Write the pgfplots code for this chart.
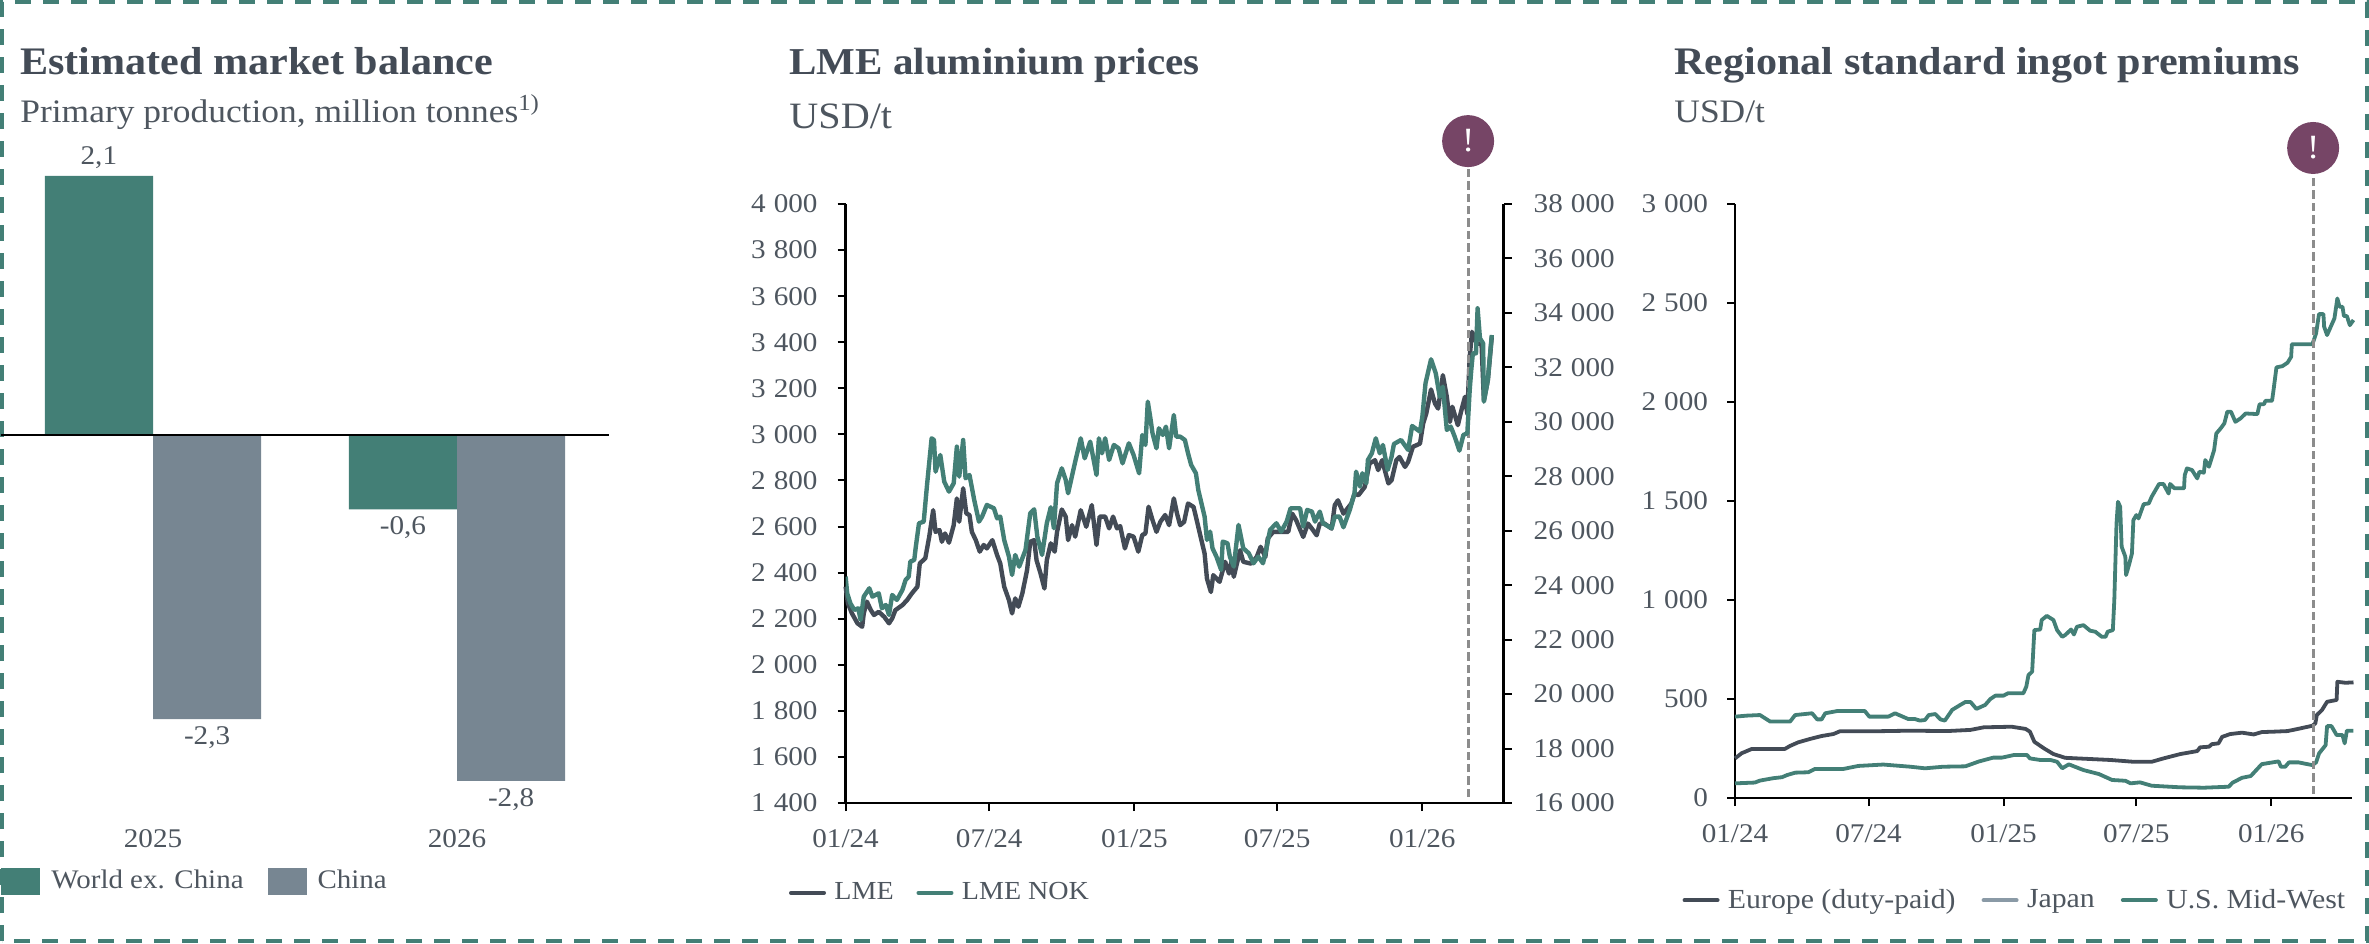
\documentclass[border=0pt]{standalone}
\usepackage{fontspec}
\setmainfont[FakeStretch=1.08]{Liberation Serif}
\usepackage{pgfplots}
\usepackage{pgfplotstable}
\pgfplotsset{compat=1.18}

\definecolor{tealc}{HTML}{437F76}
\definecolor{slatec}{HTML}{778692}
\definecolor{darkc}{HTML}{434B56}
\definecolor{txt}{HTML}{4E565F}
\definecolor{plumc}{HTML}{764566}
\definecolor{dashc}{HTML}{8C8C8C}
\definecolor{japc}{HTML}{8A9AA6}

% days since 2024-01-01
\pgfplotstableread{
d v
0 2339
3 2266
8 2223
15 2180
21 2165
23 2223
27 2274
32 2237
36 2216
42 2230
49 2208
55 2180
59 2201
63 2237
72 2259
78 2281
84 2310
91 2339
94 2440
101 2462
106 2556
111 2671
114 2577
119 2585
122 2534
126 2570
131 2530
137 2606
141 2722
144 2621
149 2766
153 2657
157 2650
160 2577
165 2541
170 2491
175 2520
179 2505
186 2541
192 2476
196 2440
201 2339
207 2281
211 2223
215 2288
219 2252
224 2310
230 2411
234 2534
239 2541
242 2454
247 2397
252 2331
255 2454
260 2527
265 2491
268 2577
274 2674
279 2643
282 2541
287 2606
291 2556
298 2671
305 2599
312 2693
318 2520
322 2643
329 2643
334 2592
339 2643
344 2592
348 2602
354 2505
359 2563
365 2556
371 2491
376 2563
380 2570
384 2686
389 2628
394 2577
399 2621
405 2650
410 2606
416 2722
420 2657
424 2606
429 2620
434 2700
441 2685
445 2628
450 2555
455 2483
458 2374
463 2316
466 2389
474 2360
481 2447
486 2396
489 2447
492 2382
500 2497
504 2447
514 2439
521 2468
526 2512
532 2468
535 2548
542 2577
552 2577
561 2577
566 2656
571 2628
580 2555
586 2613
591 2591
597 2562
601 2613
607 2613
616 2591
620 2693
624 2714
631 2656
641 2700
645 2743
650 2736
658 2772
664 2874
671 2888
675 2845
680 2888
688 2787
692 2801
698 2888
702 2902
709 2859
713 2881
719 2946
728 2960
732 3047
736 3091
742 3195
747 3134
751 3112
757 3257
762 3163
766 3054
769 3120
776 3040
780 3098
785 3163
788 3090
791 3337
794 3445
800 3394
806 3394
809 3148
814 3235
819 3423
}\lme

\pgfplotstableread{
d v
0 24315
2 23703
6 23336
11 23091
16 23152
19 22724
23 23580
30 23886
34 23580
42 23703
46 23152
51 23274
55 22907
59 23642
65 23458
72 23825
76 24192
80 24315
82 24866
87 24927
89 25416
93 26273
99 26334
103 27620
109 29394
112 29333
114 28170
120 28782
125 27803
131 27436
137 27742
141 29088
144 27987
149 29333
152 27926
157 28048
163 27130
169 26334
173 26518
179 26946
188 26824
192 26457
196 26518
201 25661
207 25049
211 24376
215 25110
220 24682
228 25294
234 26640
239 26787
243 25784
249 25110
255 26273
260 26861
264 26090
268 27742
274 28293
279 27864
282 27375
291 28538
298 29394
303 28660
310 29272
318 28048
321 29394
325 28844
329 29394
334 28599
340 29150
346 29027
351 28476
359 29211
365 28782
372 28109
376 29517
380 29150
383 30741
386 30190
389 29578
394 29027
397 29762
402 29517
406 29823
410 29027
416 30251
419 29456
424 29456
430 29334
434 28844
438 28416
444 28110
447 27498
451 27008
455 26519
458 25662
462 25968
465 25356
470 25050
476 24560
478 25601
484 25540
487 25050
492 24683
498 26213
504 25356
511 25172
517 24805
523 25050
529 24805
533 25295
538 26029
546 26274
552 25968
559 26335
564 26825
576 26825
580 26152
585 26764
591 26702
595 26335
601 26702
605 26274
616 26091
620 26519
626 26519
631 26127
639 26764
645 27376
647 28171
652 27620
655 28110
660 27743
662 28600
667 28844
672 29395
677 28844
681 29150
687 28232
692 28722
695 29187
704 29334
713 28967
718 29848
728 29640
731 30191
735 31415
742 32296
748 31782
753 30925
757 31292
762 29701
767 29824
772 29456
778 28942
783 29518
788 29579
791 31170
793 31904
795 32516
799 32516
801 34169
804 33067
808 32884
809 30742
814 31537
819 33190
}\nok

\pgfplotstableread{
d v
0 411
16 416
34 419
48 386
75 386
82 419
105 428
112 397
118 397
123 428
139 439
177 439
183 411
209 411
218 428
236 399
245 399
252 391
259 394
264 419
273 424
280 397
286 391
296 445
307 470
314 485
321 485
329 450
341 470
348 500
355 517
366 517
372 529
393 529
397 562
400 621
405 638
408 848
416 851
418 899
425 920
434 899
439 848
446 814
450 823
458 851
462 826
466 865
475 873
484 845
491 840
500 814
505 814
508 840
515 848
517 1000
520 1387
522 1496
525 1471
527 1269
532 1219
533 1126
537 1177
541 1235
543 1404
547 1429
550 1412
557 1484
564 1488
568 1522
578 1586
584 1586
591 1538
593 1586
599 1564
612 1564
613 1631
616 1665
623 1656
630 1614
633 1648
639 1643
641 1707
646 1673
653 1757
656 1841
662 1867
667 1892
671 1951
676 1951
682 1900
689 1917
696 1942
712 1939
715 1989
721 1989
723 2006
732 2006
734 2060
738 2175
746 2181
753 2198
758 2228
759 2292
787 2292
792 2346
796 2444
802 2444
803 2380
807 2338
814 2397
817 2422
821 2523
824 2481
828 2481
830 2434
834 2434
838 2388
843 2414
}\usmw

\pgfplotstableread{
d v
0 200
9 226
23 248
68 248
75 263
86 281
102 298
118 313
134 323
143 337
189 337
239 340
289 338
321 344
339 357
377 360
396 349
402 335
408 284
421 251
434 222
450 203
512 192
543 183
568 183
584 200
607 222
630 237
634 256
646 259
650 272
659 276
664 309
675 323
691 330
707 321
718 333
734 335
753 338
766 348
787 365
791 377
793 419
800 444
807 486
820 495
821 587
832 582
843 584
}\europe

\pgfplotstableread{
d v
0 74
27 78
34 88
52 100
64 105
71 116
82 128
100 130
109 147
148 147
168 162
202 169
239 158
259 150
284 158
314 160
332 184
352 204
364 204
380 217
398 217
402 200
416 192
430 192
439 183
446 150
455 170
475 141
496 121
514 91
532 87
539 74
552 79
568 62
607 54
639 52
673 57
678 77
691 102
703 111
718 171
741 185
744 158
750 158
755 180
768 180
787 166
792 180
796 225
805 267
807 363
813 363
820 318
828 318
831 276
834 340
843 340
}\japan

\tikzset{lab/.style={font=\fontsize{13.5}{16}\selectfont,text=txt},
  alert/.style={circle,fill=plumc,text=white,minimum size=26pt,inner sep=0pt,font=\fontsize{17}{20}\selectfont}}
\pgfplotsset{
  common/.style={
    scale only axis,
    axis line style={black,line width=1.2pt},
    tick style={black,line width=1pt},
    major tick length=4pt,
    tick align=outside,
    tick label style={lab,
      /pgf/number format/1000 sep={\hspace{0.3em}},
      /pgf/number format/assume math mode=true},
    scaled ticks=false,
    xtick={0,182,366,547,731},
    xticklabels={01/24,07/24,01/25,07/25,01/26},
    x tick label style={yshift=-5.5pt},
    xmin=0,
    legend style={draw=none,fill=none,inner sep=0pt,outer sep=0pt,legend columns=-1,
      font=\fontsize{13}{16}\selectfont,text=txt,
      /tikz/every odd column/.append style={column sep=2.2pt}},
    legend cell align=left,
    legend image code/.code={\draw[##1,line width=2pt,line cap=round] (0pt,0pt) -- (16.5pt,0pt);},
  },
  srs/.style={line width=2.2pt,line join=round,no markers},
  dashln/.style={dashc,line width=1.4pt,dash pattern=on 4.2pt off 2pt},
}

\begin{document}
\begin{tikzpicture}
\useasboundingbox (0,0) rectangle (1184.5pt,471.5pt);

\draw[tealc,line width=2.4pt,dash pattern=on 8pt off 6pt] (1pt,1pt) rectangle (1183.5pt,470.5pt);

\node[anchor=base west,inner sep=0,font=\fontsize{19.5}{22}\selectfont\bfseries,text=darkc] at (10pt,434pt) {Estimated market balance};
\node[anchor=base west,inner sep=0,font=\fontsize{16.4}{18}\selectfont,text=txt] at (10pt,410pt) {Primary production, million tonnes\textsuperscript{1)}};
\node[anchor=base west,inner sep=0,font=\fontsize{19}{22}\selectfont\bfseries,text=darkc] at (394.5pt,434pt) {LME aluminium prices};
\node[anchor=base west,inner sep=0,font=\fontsize{18.6}{20}\selectfont,text=txt] at (394.5pt,407pt) {USD/t};
\node[anchor=base west,inner sep=0,font=\fontsize{19.5}{22}\selectfont\bfseries,text=darkc] at (837pt,434pt) {Regional standard ingot premiums};
\node[anchor=base west,inner sep=0,font=\fontsize{16.4}{18}\selectfont,text=txt] at (837pt,410pt) {USD/t};

% left panel: bars
\begin{axis}[
  at={(0.5pt,62.5pt)},anchor=south west,
  scale only axis,width=304pt,height=339.6pt,
  ybar,bar width=0.356,
  xmin=-0.5,xmax=1.5,ymin=-3.1,ymax=2.4,
  axis y line=none,axis x line*=bottom,
  x axis line style={draw=none},
  xtick={0,1},xticklabels={2025,2026},
  xtick style={draw=none},
  tick label style={lab},
  x tick label style={yshift=2pt},
  clip=false,
  nodes near coords,
  every node near coord/.append style={lab,inner sep=3.5pt,
    /pgf/number format/fixed,/pgf/number format/fixed zerofill,/pgf/number format/precision=1,
    /pgf/number format/use comma,/pgf/number format/assume math mode=true},
  legend style={at={(axis description cs:0,-0.093)},anchor=west,draw=none,fill=none,inner sep=0pt,
    legend columns=-1,font=\fontsize{13.4}{16}\selectfont,text=txt,
    /tikz/every odd column/.append style={column sep=3.5pt},
    /tikz/every even column/.append style={column sep=10pt}},
  legend image code/.code={\fill[#1] (0pt,-6.75pt) rectangle (19.5pt,6.75pt);},
]
\addplot[fill=tealc,draw=none,bar shift=-0.178] coordinates {(0,2.1) (1,-0.6)};
\addlegendentry{World ex. China}
\addplot[fill=slatec,draw=none,bar shift=0.178] coordinates {(0,-2.3) (1,-2.8)};
\addlegendentry{China}
\draw[black,line width=1pt] (axis cs:-0.5,0) -- (axis cs:1.5,0);
\end{axis}

% middle panel: USD on the left axis, NOK on the right axis
\begin{axis}[
  common,
  at={(422.8pt,70pt)},anchor=south west,width=329pt,height=299.5pt,
  xmax=834,ymin=1400,ymax=4000,ytick={1400,1600,...,4000},
  axis y line*=left,axis x line*=bottom,
  y tick label style={xshift=-6.5pt},
  clip=false,
]
\addplot[srs,darkc] table[x=d,y=v] {\lme};
\addplot[dashln] coordinates {(789,1425) (789,4273)} node[pos=1,alert] {!};
\end{axis}
\begin{axis}[
  common,
  at={(422.8pt,70pt)},anchor=south west,width=329pt,height=299.5pt,
  xmax=834,ymin=16000,ymax=38000,ytick={16000,18000,...,38000},
  axis y line*=right,axis x line=none,
  y tick label style={xshift=7.5pt},
  legend style={at={(axis description cs:-0.086,-0.15)},anchor=west,
    /tikz/every even column/.append style={column sep=9.4pt}},
]
\addlegendimage{darkc}
\addlegendentry{LME}
\addplot[srs,tealc] table[x=d,y=v] {\nok};
\addlegendentry{LME NOK}
\end{axis}

% right panel: premiums
\begin{axis}[
  common,
  at={(867.5pt,72.5pt)},anchor=south west,width=308.5pt,height=297pt,
  xmax=841,ymin=0,ymax=3000,ytick={0,500,...,3000},
  axis y line*=left,axis x line*=bottom,
  y tick label style={xshift=-6pt},
  clip=false,
  legend style={at={(axis description cs:-0.085,-0.172)},anchor=west,
    font=\fontsize{13.8}{16}\selectfont,
    /tikz/every even column/.append style={column sep=11pt}},
]
\addplot[srs,line width=1.9pt,darkc] table[x=d,y=v] {\europe};
\addlegendentry{Europe (duty-paid)}
\addlegendimage{japc}
\addlegendentry{Japan}
\addplot[srs,line width=1.9pt,tealc] table[x=d,y=v] {\usmw};
\addlegendentry{U.S. Mid-West}
\addplot[srs,line width=1.9pt,tealc,forget plot] table[x=d,y=v] {\japan};
\addplot[dashln,forget plot] coordinates {(788,20) (788,3283)} node[pos=1,alert] {!};
\end{axis}
\end{tikzpicture}
\end{document}
